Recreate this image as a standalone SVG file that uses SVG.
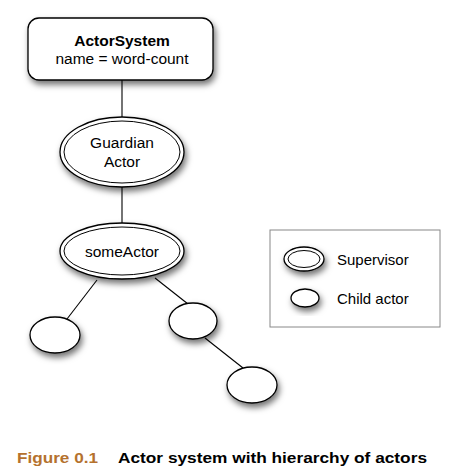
<svg xmlns="http://www.w3.org/2000/svg" width="458" height="475" viewBox="0 0 458 475">
<style>
.shape{fill:#fff;stroke:#000;stroke-width:1.3}
.inner{fill:none;stroke:#000;stroke-width:1}
.t{font-family:"Liberation Sans",Arial,sans-serif;font-size:15.5px;fill:#000;text-anchor:middle}
.lt{font-family:"Liberation Sans",Arial,sans-serif;font-size:15px;fill:#000}
.conn line{stroke:#000;stroke-width:1.1}
</style>
<defs>
<filter id="sh" x="-30%" y="-30%" width="170%" height="180%">
<feDropShadow dx="2" dy="4" stdDeviation="3" flood-color="#000" flood-opacity="0.55"/>
</filter>
</defs>
<rect width="458" height="475" fill="#fff"/>
<g id="connectors" class="conn">
<line x1="122" y1="80" x2="122" y2="117"/>
<line x1="122" y1="187" x2="122" y2="223"/>
<line x1="97" y1="280" x2="67" y2="319"/>
<line x1="155" y1="278" x2="188" y2="304"/>
<line x1="205" y1="338" x2="243" y2="368"/>
</g>
<g id="actorsystem">
<rect class="shape" x="28" y="18" width="185" height="62" rx="11" filter="url(#sh)"/>
<text class="t" x="122" y="46" font-weight="bold">ActorSystem</text>
<text class="t" x="122" y="64">name = word-count</text>
</g>
<g id="guardian">
<ellipse class="shape" cx="122" cy="152" rx="62" ry="35" filter="url(#sh)"/>
<ellipse class="inner" cx="122" cy="152" rx="58" ry="31"/>
<text class="t" x="122" y="148" font-size="15">Guardian</text>
<text class="t" x="122" y="167" font-size="15">Actor</text>
</g>
<g id="someactor">
<ellipse class="shape" cx="122" cy="251" rx="62" ry="28" filter="url(#sh)"/>
<ellipse class="inner" cx="122" cy="251" rx="58" ry="24"/>
<text class="t" x="122" y="257" font-size="15">someActor</text>
</g>
<g id="child1">
<ellipse class="shape" cx="55" cy="335" rx="25" ry="18" filter="url(#sh)"/>
</g>
<g id="child2">
<ellipse class="shape" cx="193" cy="321" rx="24" ry="18" filter="url(#sh)"/>
</g>
<g id="child3">
<ellipse class="shape" cx="252" cy="385" rx="25" ry="18" filter="url(#sh)"/>
</g>
<g id="legend">
<rect x="270" y="230" width="170" height="97" fill="#fff" stroke="#888" stroke-width="1"/>
<ellipse class="shape" cx="304" cy="259" rx="20" ry="12" filter="url(#sh)"/>
<ellipse class="inner" cx="304" cy="259" rx="16" ry="8.5"/>
<text class="lt" x="337" y="265">Supervisor</text>
<ellipse class="shape" cx="305" cy="298" rx="14" ry="9" filter="url(#sh)"/>
<text class="lt" x="337" y="304">Child actor</text>
</g>
<g id="caption" font-family="'Liberation Sans Narrow','Liberation Sans',Arial,sans-serif" font-weight="bold" font-size="15.5">
<text x="17" y="463" fill="#b5722e" textLength="81" lengthAdjust="spacingAndGlyphs">Figure 0.1</text>
<text x="118" y="463" fill="#000" textLength="309" lengthAdjust="spacingAndGlyphs">Actor system with hierarchy of actors</text>
</g>
</svg>
